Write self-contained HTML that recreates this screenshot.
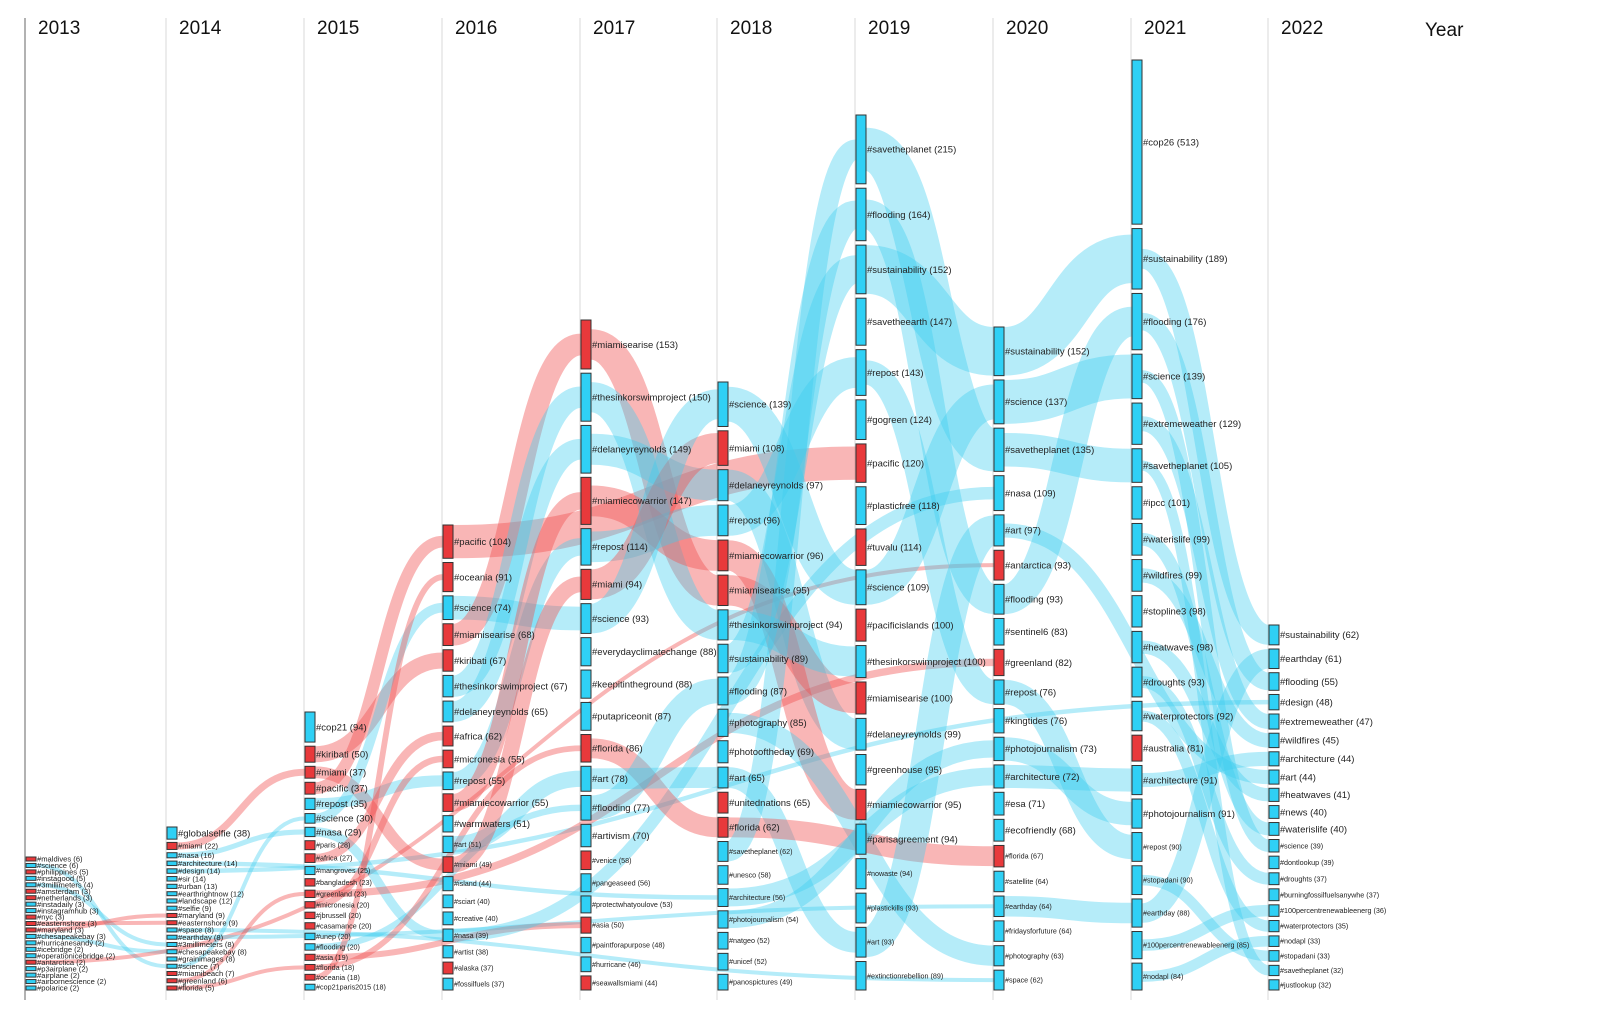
<!DOCTYPE html>
<html><head><meta charset="utf-8">
<style>
html,body{margin:0;padding:0;background:#fff;}
svg{display:block;font-family:"Liberation Sans",Arial,sans-serif;}
</style></head>
<body>
<svg id="chart" width="1600" height="1022" viewBox="0 0 1600 1022" xmlns="http://www.w3.org/2000/svg">
<g id="grid"></g>
<g id="flows"></g>
<g id="nodes"></g>
<g id="labels"></g>
<text x="1425" y="36" font-size="19" fill="#111">Year</text>
</svg>
<script>
const years = [2013,2014,2015,2016,2017,2018,2019,2020,2021,2022];
const tags2013 = ["maldives","science","philippines","instagood","3millimeters","amsterdam","netherlands","instadaily","instagramhub","nyc","easternshore","maryland","chesapeakebay","hurricanesandy","icebridge","operationicebridge","antarctica","p3airplane","airplane","airbornescience","polarice"];
const vals2013 = [6,6,5,5,4,3,3,3,3,3,3,3,3,2,2,2,2,2,2,2,2];
const tags2014 = ["globalselfie","miami","nasa","architecture","design","sir","urban","earthrightnow","landscape","selfie","maryland","easternshore","space","earthday","3millimeters","chesapeakebay","grainimages","science","miamibeach","greenland","florida"];
const vals2014 = [38,22,16,14,14,14,13,12,12,9,9,9,8,8,8,8,8,7,7,6,5];
const tags2015 = ["cop21","kiribati","miami","pacific","repost","science","nasa","paris","africa","mangroves","bangladesh","greenland","micronesia","jbrussell","casamance","unep","flooding","asia","florida","oceania","cop21paris2015"];
const vals2015 = [94,50,37,37,35,30,29,28,27,25,23,23,20,20,20,20,20,19,18,18,18];
const tags2016 = ["pacific","oceania","science","miamisearise","kiribati","thesinkorswimproject","delaneyreynolds","africa","micronesia","repost","miamiecowarrior","warmwaters","art","miami","island","sciart","creative","nasa","artist","alaska","fossilfuels"];
const vals2016 = [104,91,74,68,67,67,65,62,55,55,55,51,51,49,44,40,40,39,38,37,37];
const tags2017 = ["miamisearise","thesinkorswimproject","delaneyreynolds","miamiecowarrior","repost","miami","science","everydayclimatechange","keepitintheground","putapriceonit","florida","art","flooding","artivism","venice","pangeaseed","protectwhatyoulove","asia","paintforapurpose","hurricane","seawallsmiami"];
const vals2017 = [153,150,149,147,114,94,93,88,88,87,86,78,77,70,58,56,53,50,48,46,44];
const tags2018 = ["science","miami","delaneyreynolds","repost","miamiecowarrior","miamisearise","thesinkorswimproject","sustainability","flooding","photography","photooftheday","art","unitednations","florida","savetheplanet","unesco","architecture","photojournalism","natgeo","unicef","panospictures"];
const vals2018 = [139,108,97,96,96,95,94,89,87,85,69,65,65,62,62,58,56,54,52,52,49];
const tags2019 = ["savetheplanet","flooding","sustainability","savetheearth","repost","gogreen","pacific","plasticfree","tuvalu","science","pacificislands","thesinkorswimproject","miamisearise","delaneyreynolds","greenhouse","miamiecowarrior","parisagreement","nowaste","plastickills","art","extinctionrebellion"];
const vals2019 = [215,164,152,147,143,124,120,118,114,109,100,100,100,99,95,95,94,94,93,93,89];
const tags2020 = ["sustainability","science","savetheplanet","nasa","art","antarctica","flooding","sentinel6","greenland","repost","kingtides","photojournalism","architecture","esa","ecofriendly","florida","satellite","earthday","fridaysforfuture","photography","space"];
const vals2020 = [152,137,135,109,97,93,93,83,82,76,76,73,72,71,68,67,64,64,64,63,62];
const tags2021 = ["cop26","sustainability","flooding","science","extremeweather","savetheplanet","ipcc","waterislife","wildfires","stopline3","heatwaves","droughts","waterprotectors","australia","architecture","photojournalism","repost","stopadani","earthday","100percentrenewableenerg","nodapl"];
const vals2021 = [513,189,176,139,129,105,101,99,99,98,98,93,92,81,91,91,90,90,88,85,84];
const tags2022 = ["sustainability","earthday","flooding","design","extremeweather","wildfires","architecture","art","heatwaves","news","waterislife","science","dontlookup","droughts","burningfossilfuelsanywhe","100percentrenewableenerg","waterprotectors","nodapl","stopadani","savetheplanet","justlookup"];
const vals2022 = [62,61,55,48,47,45,44,44,41,40,40,39,39,37,37,36,35,33,33,32,32];
const redTags = ["maldives","philippines","amsterdam","netherlands","nyc","easternshore","maryland","antarctica","miami","miamibeach","greenland","florida","kiribati","pacific","paris","africa","bangladesh","micronesia","jbrussell","casamance","asia","oceania","miamisearise","miamiecowarrior","alaska","venice","seawallsmiami","unitednations","tuvalu","pacificislands","australia"];
const largeLabelCount = [0,1,7,12,14,14,17,15,16,11];

const allTags = [tags2013,tags2014,tags2015,tags2016,tags2017,tags2018,tags2019,tags2020,tags2021,tags2022];
const allVals = [vals2013,vals2014,vals2015,vals2016,vals2017,vals2018,vals2019,vals2020,vals2021,vals2022];

// layout constants
const NS="http://www.w3.org/2000/svg";
const colX = [25,166,304,442,580,717,855,993,1131,1268];
const colTop = [857,827,712,525,320,382,115,327,60,625];
const bottom = 990, k = 0.32, nodeW = 10, minH = 4;
const BLUE="#2fd0f5", RED="#e8393b";
function yHeight(v){ return Math.max(k*v, minH); }
function mk(tag, attrs, parent){ const e=document.createElementNS(NS,tag); for(const a in attrs) e.setAttribute(a,attrs[a]); parent.appendChild(e); return e; }

const grid=document.getElementById('grid');
years.forEach((yr,i)=>{
  const ln=mk('line',{x1:colX[i],x2:colX[i],y1:18,y2:1000,stroke:i===0?'#999':'#d8d8d8','stroke-width':i===0?1.5:1},grid);
  
  
  const t=mk('text',{x:colX[i]+13,y:34,'font-size':19,fill:'#111'},grid);
  t.textContent=yr;
  
  
});

// compute node positions
const layout = allTags.map((tags,ci)=>{
  const vals=allVals[ci];
  const hs=vals.map(yHeight);
  const sum=hs.reduce((a,b)=>a+b,0);
  const gap=(bottom-colTop[ci]-sum)/(tags.length-1);
  let y=colTop[ci];
  return tags.map((t,j)=>{ const n={tag:t,val:vals[j],y:y,h:hs[j],x:colX[ci]+1,ci:ci,j:j}; y+=hs[j]+gap; return n; });
});

// flows: connect each tag to its next occurrence in a later year
const flows=document.getElementById('flows');
layout.forEach((col,ci)=>{
  col.forEach(n=>{
    for(let cj=ci+1;cj<layout.length;cj++){
      const m=layout[cj].find(o=>o.tag===n.tag);
      if(m){
        const w=Math.min(n.h,m.h);
        const x0=n.x+nodeW, x1=m.x, y0=n.y+n.h/2, y1=m.y+m.h/2, dx=(x1-x0)/2;
        const red=redTags.includes(n.tag);
        const p=mk('path',{d:`M${x0},${y0} C${x0+dx},${y0} ${x1-dx},${y1} ${x1},${y1}`,fill:'none',stroke:red?'rgba(240,80,82,0.42)':'rgba(60,205,240,0.38)','stroke-width':w},flows);
        
        
        break;
      }
    }
  });
});

const nodesG=document.getElementById('nodes'), labelsG=document.getElementById('labels');
layout.forEach((col,ci)=>{
  col.forEach(n=>{
    const red=redTags.includes(n.tag);
    const r=mk('rect',{x:n.x,y:n.y,width:nodeW,height:n.h,fill:red?RED:BLUE,stroke:'#333','stroke-width':1},nodesG);
    
    
    const big=n.j<largeLabelCount[ci];
    const fs=big?9.5:(ci<=1?7.6:7.2);
    const t=mk('text',{x:n.x+nodeW+1,y:n.y+n.h/2+fs*0.35,'font-size':fs,fill:'#222'},labelsG);
    t.textContent='#'+n.tag+' ('+n.val+')';
    
    
  });
});
</script>
</body></html>
